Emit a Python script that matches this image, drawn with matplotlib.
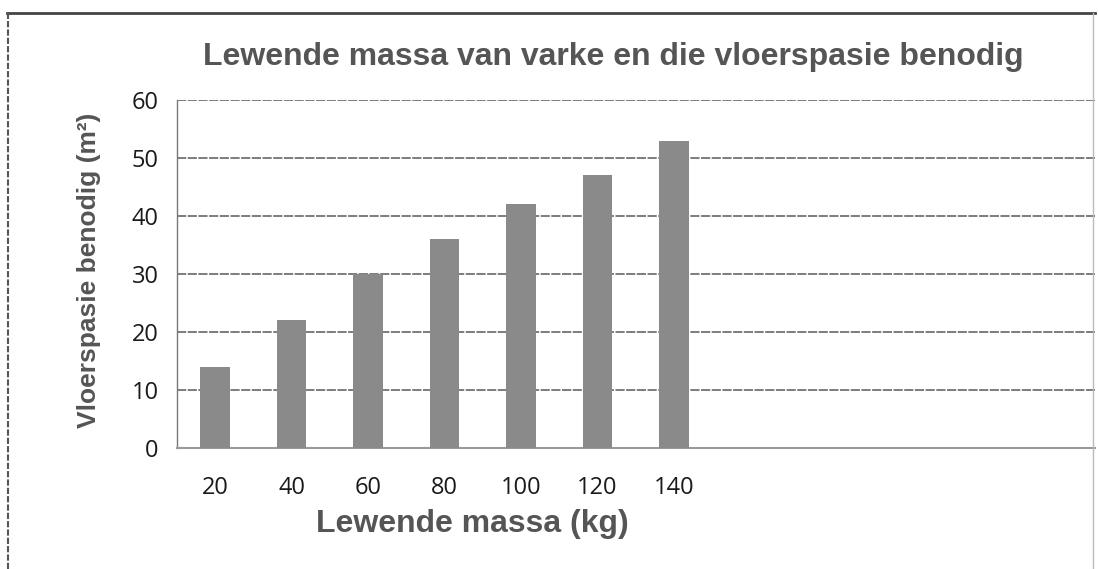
import matplotlib
matplotlib.use("Agg")
import matplotlib.pyplot as plt
from matplotlib.lines import Line2D

categories = ["20", "40", "60", "80", "100", "120", "140"]
values = [14, 22, 30, 36, 42, 47, 53]
n_slots = 12
y_ticks = [0, 10, 20, 30, 40, 50, 60]

title = "Lewende massa van varke en die vloerspasie benodig"
xlabel = "Lewende massa (kg)"
ylabel = "Vloerspasie benodig (m²)"

fig = plt.figure(figsize=(10.98, 5.69), dpi=100)
ax = fig.add_axes([0.161, 0.2127, 0.997 - 0.161, 0.8243 - 0.2127])

x = list(range(len(categories)))
ax.bar(x, values, width=0.39, color="#8a8a8a", zorder=3)

ax.set_xlim(-0.5, n_slots - 0.5)
ax.set_ylim(0, 60)
ax.set_yticks(y_ticks)
ax.set_yticklabels([str(t) for t in y_ticks], fontsize=17, color="#1a1a1a",
                   family="Open Sans")
ax.set_xticks(x)
ax.set_xticklabels(categories, fontsize=17, color="#1a1a1a", family="Open Sans")
ax.tick_params(axis="both", length=0)
ax.tick_params(axis="y", pad=13)
ax.tick_params(axis="x", pad=20)

for t in y_ticks[1:]:
    ax.axhline(t, color="#5a5a5a", linewidth=1.1, linestyle=(0, (6, 1)), zorder=1)

for s in ["top", "right"]:
    ax.spines[s].set_visible(False)
ax.spines["left"].set_color("#777777")
ax.spines["left"].set_linestyle((0, (2, 1)))
ax.spines["left"].set_linewidth(1.0)
ax.spines["bottom"].set_color("#9a9a9a")
ax.spines["bottom"].set_linewidth(1.5)

fig.text(613 / 1098, 1 - 57 / 569, title, ha="center", va="center", fontsize=23,
         fontweight="bold", color="#555555", family="Liberation Sans")
ax.set_xlabel(xlabel, fontsize=23, fontweight="bold", color="#555555",
              family="Liberation Sans")
ax.xaxis.set_label_coords((473 - 177) / 918, -(524 - 448) / 348)
ax.xaxis.label.set_va("center")
ax.set_ylabel(ylabel, fontsize=19, fontweight="bold", color="#555555",
              family="Liberation Sans")
ax.yaxis.set_label_coords(-(177 - 89) / 918, (448 - 270) / 348)
ax.yaxis.label.set_va("center")

# scanned page frame
fig.add_artist(Line2D([0.006, 0.997], [0.977, 0.977], transform=fig.transFigure,
                      color="#444444", linewidth=2))
fig.add_artist(Line2D([0.007, 0.007], [0.0, 0.977], transform=fig.transFigure,
                      color="#555555", linewidth=1.5, linestyle=(0, (3, 1))))
fig.add_artist(Line2D([0.995, 0.995], [0.0, 0.977], transform=fig.transFigure,
                      color="#bbbbbb", linewidth=1.0))

fig.savefig("out.png", dpi=100)
